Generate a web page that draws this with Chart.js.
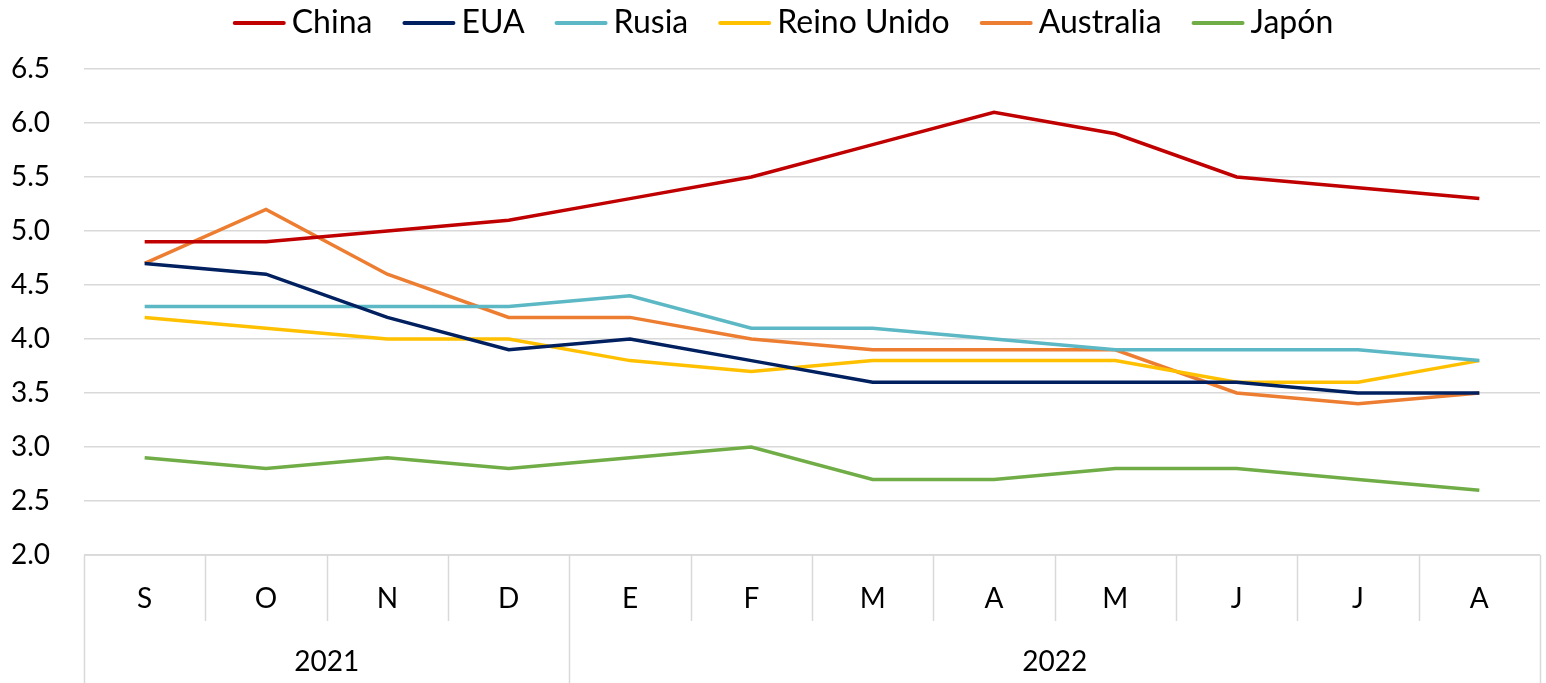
<!DOCTYPE html>
<html>
<head>
<meta charset="utf-8">
<script src="https://cdn.jsdelivr.net/npm/chart.js@4"></script>
<style>
  html, body { margin: 0; padding: 0; background: #fff; }
  #wrap { width: 1546px; height: 683px; }
</style>
</head>
<body>
<div id="wrap"><canvas id="chart" width="1546" height="683"></canvas></div>
<script>
// Months and year groups
const months = ['S', 'O', 'N', 'D', 'E', 'F', 'M', 'A', 'M', 'J', 'J', 'A'];
const years = ['2021', '2022'];
const yearSpans = [4, 8];

// Series values
const china = [4.9, 4.9, 5.0, 5.1, 5.3, 5.5, 5.8, 6.1, 5.9, 5.5, 5.4, 5.3];
const eua = [4.7, 4.6, 4.2, 3.9, 4.0, 3.8, 3.6, 3.6, 3.6, 3.6, 3.5, 3.5];
const rusia = [4.3, 4.3, 4.3, 4.3, 4.4, 4.1, 4.1, 4.0, 3.9, 3.9, 3.9, 3.8];
const reinoUnido = [4.2, 4.1, 4.0, 4.0, 3.8, 3.7, 3.8, 3.8, 3.8, 3.6, 3.6, 3.8];
const australia = [4.7, 5.2, 4.6, 4.2, 4.2, 4.0, 3.9, 3.9, 3.9, 3.5, 3.4, 3.5];
const japon = [2.9, 2.8, 2.9, 2.8, 2.9, 3.0, 2.7, 2.7, 2.8, 2.8, 2.7, 2.6];

const fontFamily = 'Lato, "DejaVu Sans", sans-serif';
const gridColor = '#d9d9d9';

function series(label, data, color) {
  return {
    label: label,
    data: data,
    borderColor: color,
    backgroundColor: color,
    borderWidth: 3.5,
    pointRadius: 0,
    tension: 0
  };
}

// Legend drawn by hand so the line sample and spacing match
const topLegend = {
  id: 'topLegend',
  afterDraw(chart) {
    const ctx = chart.ctx;
    const sets = chart.data.datasets;
    const lineW = 53, textGap = 6, itemGap = 30;
    ctx.save();
    ctx.font = '32px ' + fontFamily;
    ctx.textBaseline = 'middle';
    ctx.textAlign = 'left';
    const widths = sets.map(d => ctx.measureText(d.label).width);
    let total = 0;
    widths.forEach((w, i) => { total += lineW + textGap + w + (i ? itemGap : 0); });
    let x = 783 - total / 2;
    const y = 23;
    sets.forEach((d, i) => {
      ctx.strokeStyle = d.borderColor;
      ctx.lineWidth = 4;
      ctx.lineCap = 'round';
      ctx.beginPath();
      ctx.moveTo(x + 2, y);
      ctx.lineTo(x + lineW - 2, y);
      ctx.stroke();
      ctx.fillStyle = '#000';
      ctx.fillText(d.label, x + lineW + textGap, y);
      x += lineW + textGap + widths[i] + itemGap;
    });
    ctx.restore();
  }
};

// Draws the category separators and the year row under the plot
const groupAxis = {
  id: 'groupAxis',
  afterDraw(chart) {
    const ctx = chart.ctx;
    const area = chart.chartArea;
    const x = chart.scales.x;
    const w = (area.right - area.left) / months.length;
    const bottom = chart.height;

    ctx.save();
    ctx.strokeStyle = gridColor;
    ctx.lineWidth = 1.5;

    ctx.beginPath();
    ctx.moveTo(area.left, area.bottom);
    ctx.lineTo(area.right, area.bottom);
    ctx.stroke();

    const groupEdges = [0];
    yearSpans.reduce((acc, n) => { groupEdges.push(acc + n); return acc + n; }, 0);

    for (let i = 0; i <= months.length; i++) {
      const px = Math.round(x.getPixelForValue(i) - w / 2) + 0.5;
      const isGroup = groupEdges.includes(i);
      ctx.beginPath();
      ctx.moveTo(px, area.bottom);
      ctx.lineTo(px, isGroup ? bottom : area.bottom + 66);
      ctx.stroke();
    }

    ctx.fillStyle = '#000';
    ctx.font = '28px ' + fontFamily;
    ctx.textAlign = 'center';
    ctx.textBaseline = 'middle';
    let start = 0;
    years.forEach((year, k) => {
      const end = start + yearSpans[k];
      const cx = (x.getPixelForValue(start) + x.getPixelForValue(end - 1)) / 2;
      ctx.fillText(year, cx, 662);
      start = end;
    });
    ctx.restore();
  }
};

new Chart(document.getElementById('chart'), {
  type: 'line',
  data: {
    labels: months,
    datasets: [
      series('China', china, '#c00000'),
      series('EUA', eua, '#002060'),
      series('Rusia', rusia, '#5bb8c4'),
      series('Reino Unido', reinoUnido, '#ffc000'),
      series('Australia', australia, '#ed7d31'),
      series('Japón', japon, '#70ad47')
    ]
  },
  options: {
    responsive: false,
    animation: false,
    layout: {
      padding: { left: 0, right: 6, top: 69, bottom: 0 }
    },
    scales: {
      x: {
        offset: true,
        grid: { display: false, drawTicks: false },
        border: { display: false },
        ticks: {
          color: '#000',
          font: { family: fontFamily, size: 28 },
          padding: 27,
          maxRotation: 0,
          autoSkip: false
        },
        afterFit(scale) { scale.height = 128; }
      },
      y: {
        min: 2,
        max: 6.5,
        grid: { color: gridColor, lineWidth: 1.5, drawTicks: false },
        border: { display: false },
        ticks: {
          stepSize: 0.5,
          color: '#000',
          font: { family: fontFamily, size: 28 },
          padding: 34,
          callback: v => v.toFixed(1)
        },
        afterFit(scale) { scale.width = 84; }
      }
    },
    plugins: {
      legend: { display: false },
      tooltip: { enabled: false }
    }
  },
  plugins: [groupAxis, topLegend]
});
</script>
</body>
</html>
